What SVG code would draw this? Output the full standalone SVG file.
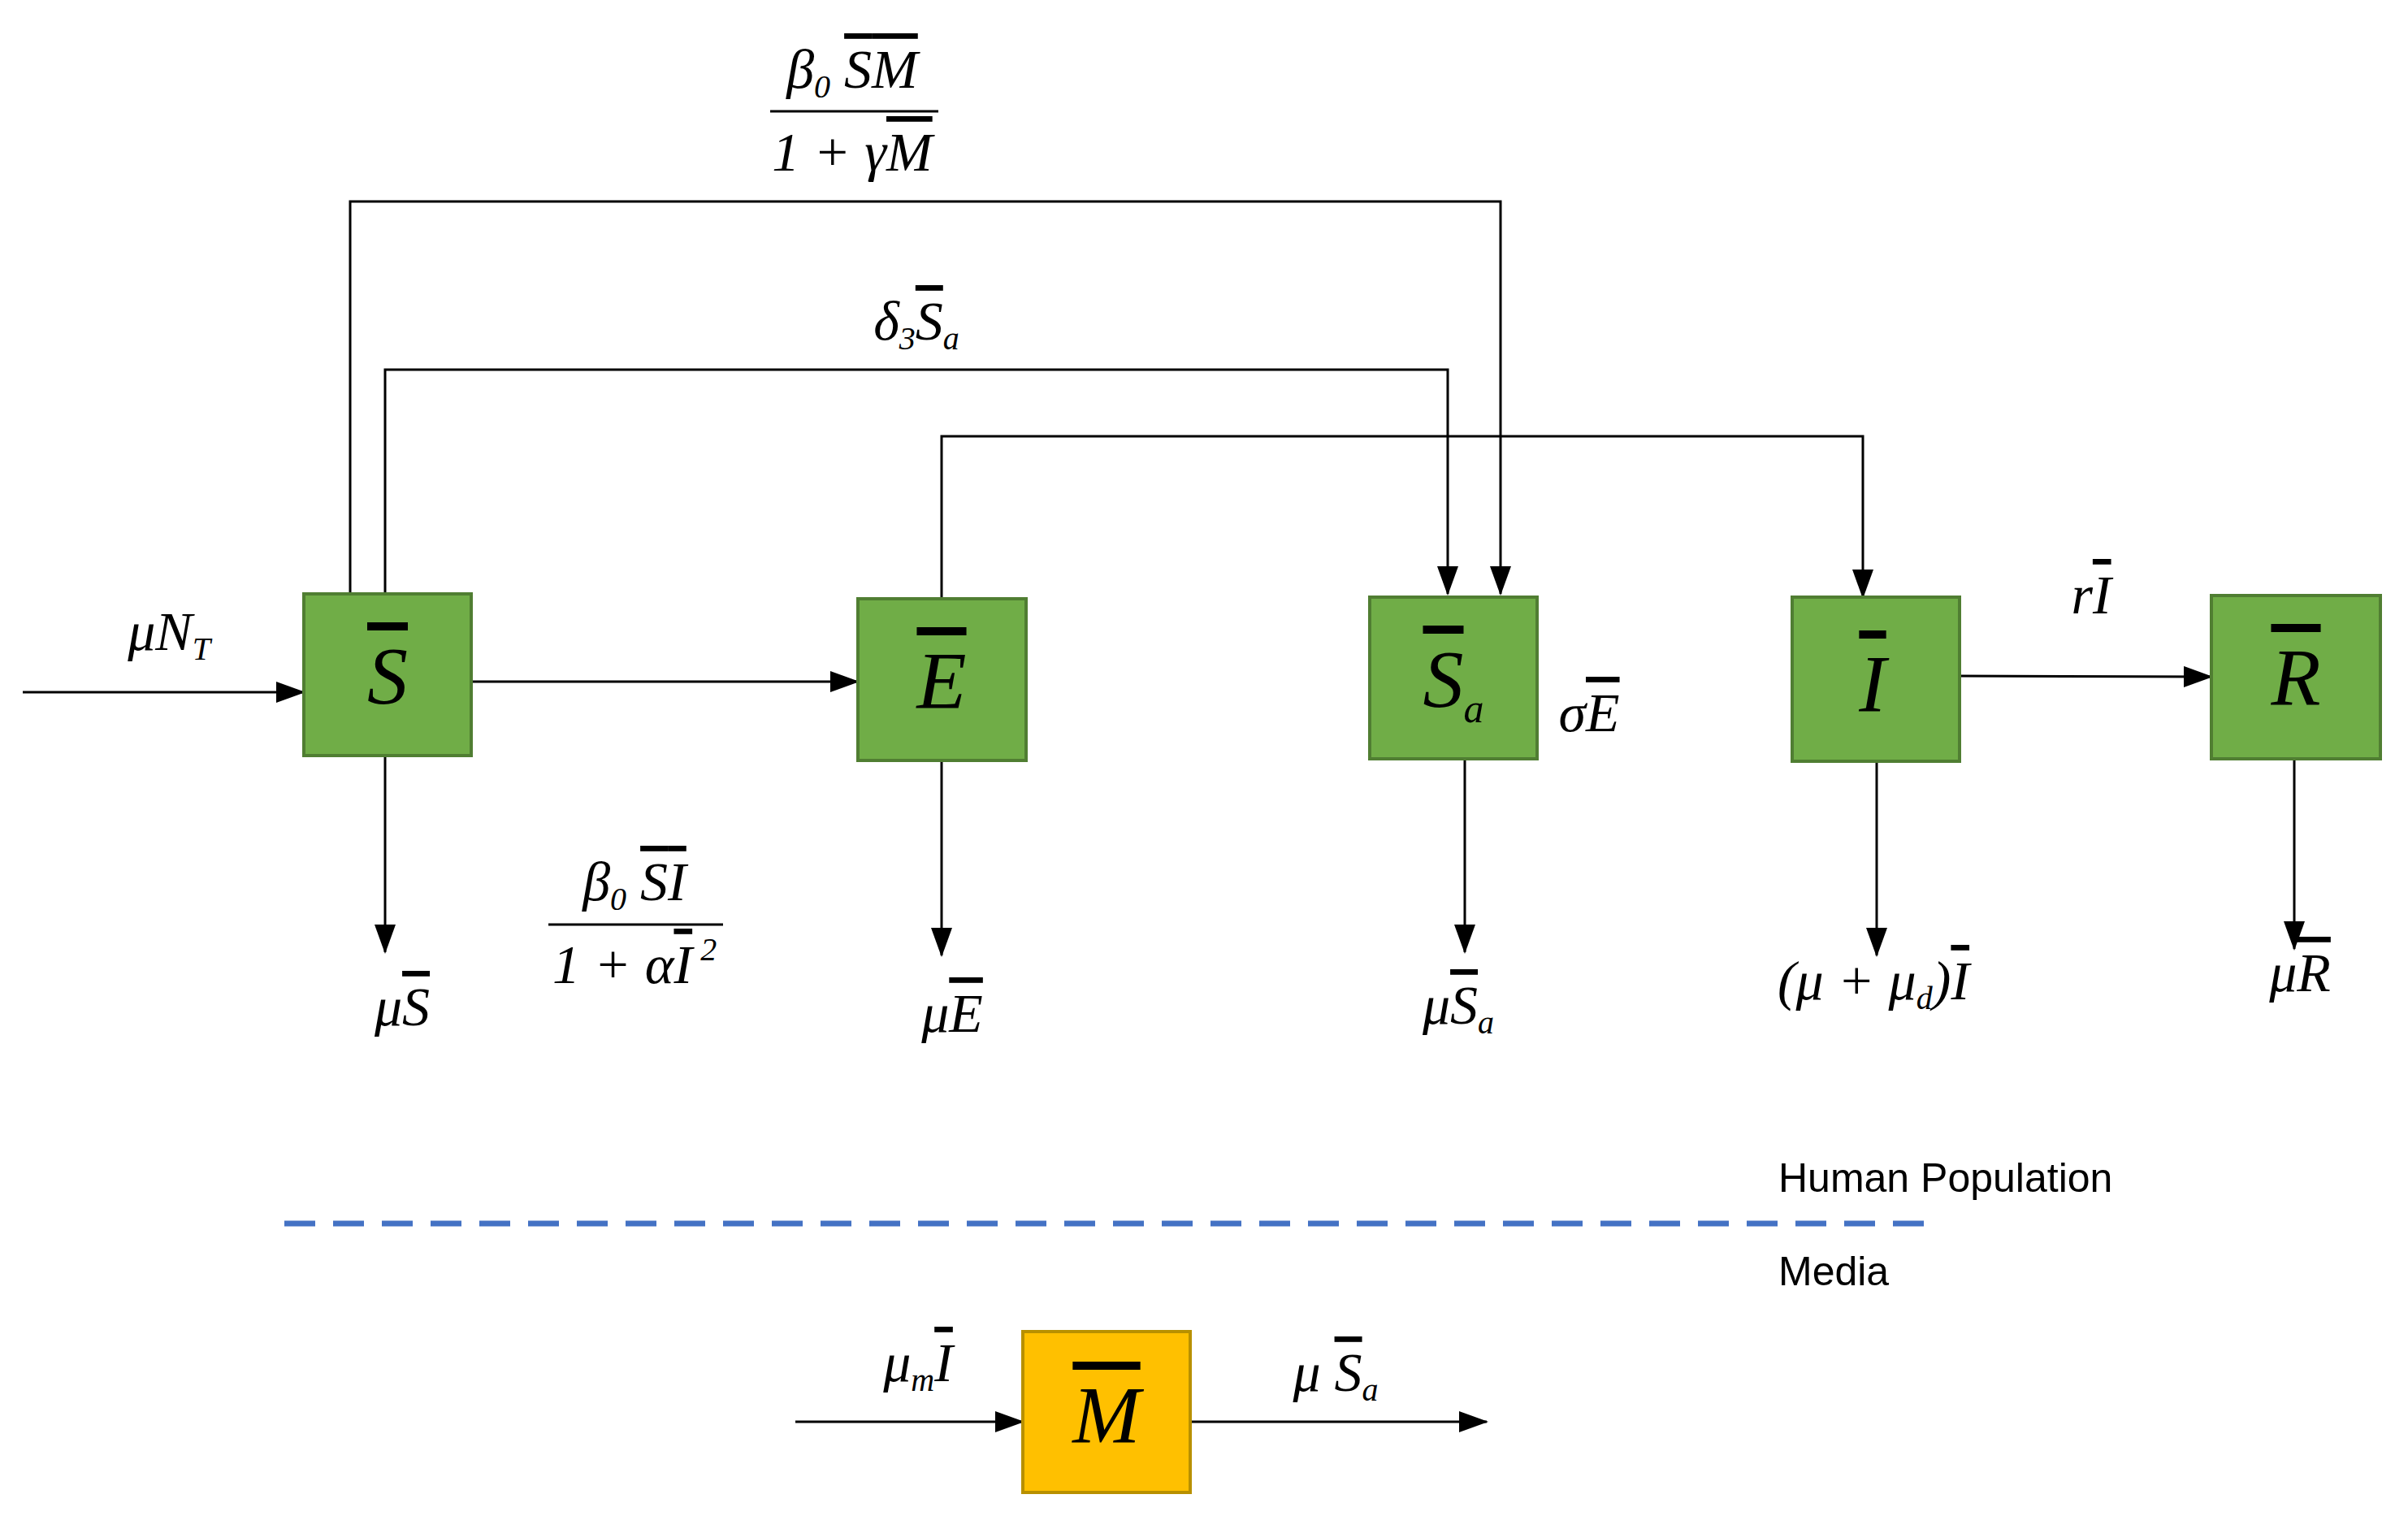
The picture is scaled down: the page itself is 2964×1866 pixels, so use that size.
<svg xmlns="http://www.w3.org/2000/svg" width="2964" height="1866" viewBox="0 0 2964 1866">
<style>
.box{fill:#70AD47;stroke:#507E32;stroke-width:4}
.ybox{fill:#FFC000;stroke:#B89000;stroke-width:4}
.ln{fill:none;stroke:#000;stroke-width:3}
.arr{fill:none;stroke:#000;stroke-width:3;marker-end:url(#ah)}
.m{font-family:"Liberation Serif",serif;font-style:italic;font-size:68px;fill:#000}
.big{font-family:"Liberation Serif",serif;font-style:italic;font-size:100px;fill:#000;text-anchor:middle}
.ov{text-decoration:overline}
.sub{font-size:40px}
.lab{font-family:"Liberation Sans",Arial,sans-serif;font-size:50px;fill:#000}
</style>
<defs>
<marker id="ah" markerUnits="userSpaceOnUse" markerWidth="36" markerHeight="26" refX="34" refY="13" orient="auto">
<path d="M0,0 L36,13 L0,26 Z" fill="#000"/>
</marker>
</defs>
<rect width="2964" height="1866" fill="#fff"/>
<g id="connectors">
<path class="arr" d="M28,852 H374"/>
<path class="arr" d="M580,839 H1056"/>
<path class="arr" d="M431,731 V248 H1847 V731"/>
<path class="arr" d="M474,731 V455 H1782 V731"/>
<path class="arr" d="M1159,737 V537 H2293 V735"/>
<path class="arr" d="M2412,832 L2722,833"/>
<path class="arr" d="M474,930 V1172"/>
<path class="arr" d="M1159,936 V1176"/>
<path class="arr" d="M1803,934 V1172"/>
<path class="arr" d="M2310,937 V1176"/>
<path class="arr" d="M2824,934 V1168"/>
<path class="arr" d="M979,1750 H1259"/>
<path class="arr" d="M1465,1750 H1830"/>
<path d="M350,1506 H2378" fill="none" stroke="#4472C4" stroke-width="7" stroke-dasharray="38,22"/>
</g>
<g id="S"><rect class="box" x="374" y="731" width="206" height="199"/><text class="big" x="477" y="865"><tspan class="ov">S</tspan></text></g>
<g id="E"><rect class="box" x="1056" y="737" width="207" height="199"/><text class="big" x="1159" y="871"><tspan class="ov">E</tspan></text></g>
<g id="Sa"><rect class="box" x="1686" y="735" width="206" height="199"/><text class="big" x="1789" y="869"><tspan class="ov">S</tspan><tspan font-size="50" dy="20">a</tspan></text></g>
<g id="I"><rect class="box" x="2206" y="735" width="206" height="202"/><text class="big" x="2305" y="875"><tspan class="ov">I</tspan></text></g>
<g id="R"><rect class="box" x="2722" y="733" width="208" height="201"/><text class="big" x="2826" y="867"><tspan class="ov">R</tspan></text></g>
<g id="M"><rect class="ybox" x="1259" y="1639" width="206" height="198"/><text class="big" x="1362" y="1775"><tspan class="ov">M</tspan></text></g>
<g id="labels">
<text class="m" x="1049" y="108" text-anchor="middle">β<tspan class="sub" dy="12">0</tspan><tspan dy="-12"> </tspan><tspan class="ov">S</tspan><tspan class="ov">M</tspan></text>
<path class="ln" d="M948,137 H1155"/>
<text class="m" x="1049" y="210" text-anchor="middle">1 + γ<tspan class="ov">M</tspan></text>
<text class="m" x="1128" y="418" text-anchor="middle">δ<tspan class="sub" dy="12">3</tspan><tspan dy="-12" class="ov">S</tspan><tspan class="sub" dy="12">a</tspan></text>
<text class="m" x="208" y="800" text-anchor="middle">μN<tspan class="sub" dy="12">T</tspan></text>
<text class="m" x="781" y="1108" text-anchor="middle">β<tspan class="sub" dy="12">0</tspan><tspan dy="-12"> </tspan><tspan class="ov">S</tspan><tspan class="ov">I</tspan></text>
<path class="ln" d="M675,1138 H890"/>
<text class="m" x="781" y="1210" text-anchor="middle">1 + α<tspan class="ov">I</tspan><tspan class="sub" dy="-28"> 2</tspan></text>
<text class="m" x="495" y="1262" text-anchor="middle">μ<tspan class="ov">S</tspan></text>
<text class="m" x="1172" y="1270" text-anchor="middle">μ<tspan class="ov">E</tspan></text>
<text class="m" x="1795" y="1260" text-anchor="middle">μ<tspan class="ov">S</tspan><tspan class="sub" dy="12">a</tspan></text>
<text class="m" x="2306" y="1230" text-anchor="middle">(μ + μ<tspan class="sub" dy="12">d</tspan><tspan dy="-12">)</tspan><tspan class="ov">I</tspan></text>
<text class="m" x="2831" y="1220" text-anchor="middle">μ<tspan class="ov">R</tspan></text>
<text class="m" x="2574" y="755" text-anchor="middle">r<tspan class="ov">I</tspan></text>
<text class="m" x="1956" y="900" text-anchor="middle">σ<tspan class="ov">E</tspan></text>
<text class="m" x="1130" y="1700" text-anchor="middle">μ<tspan class="sub" dy="12">m</tspan><tspan dy="-12" class="ov">I</tspan></text>
<text class="m" x="1644" y="1712" text-anchor="middle">μ <tspan class="ov">S</tspan><tspan class="sub" dy="12">a</tspan></text>
<text class="lab" x="2189" y="1467">Human Population</text>
<text class="lab" x="2189" y="1582">Media</text>
</g>
</svg>
